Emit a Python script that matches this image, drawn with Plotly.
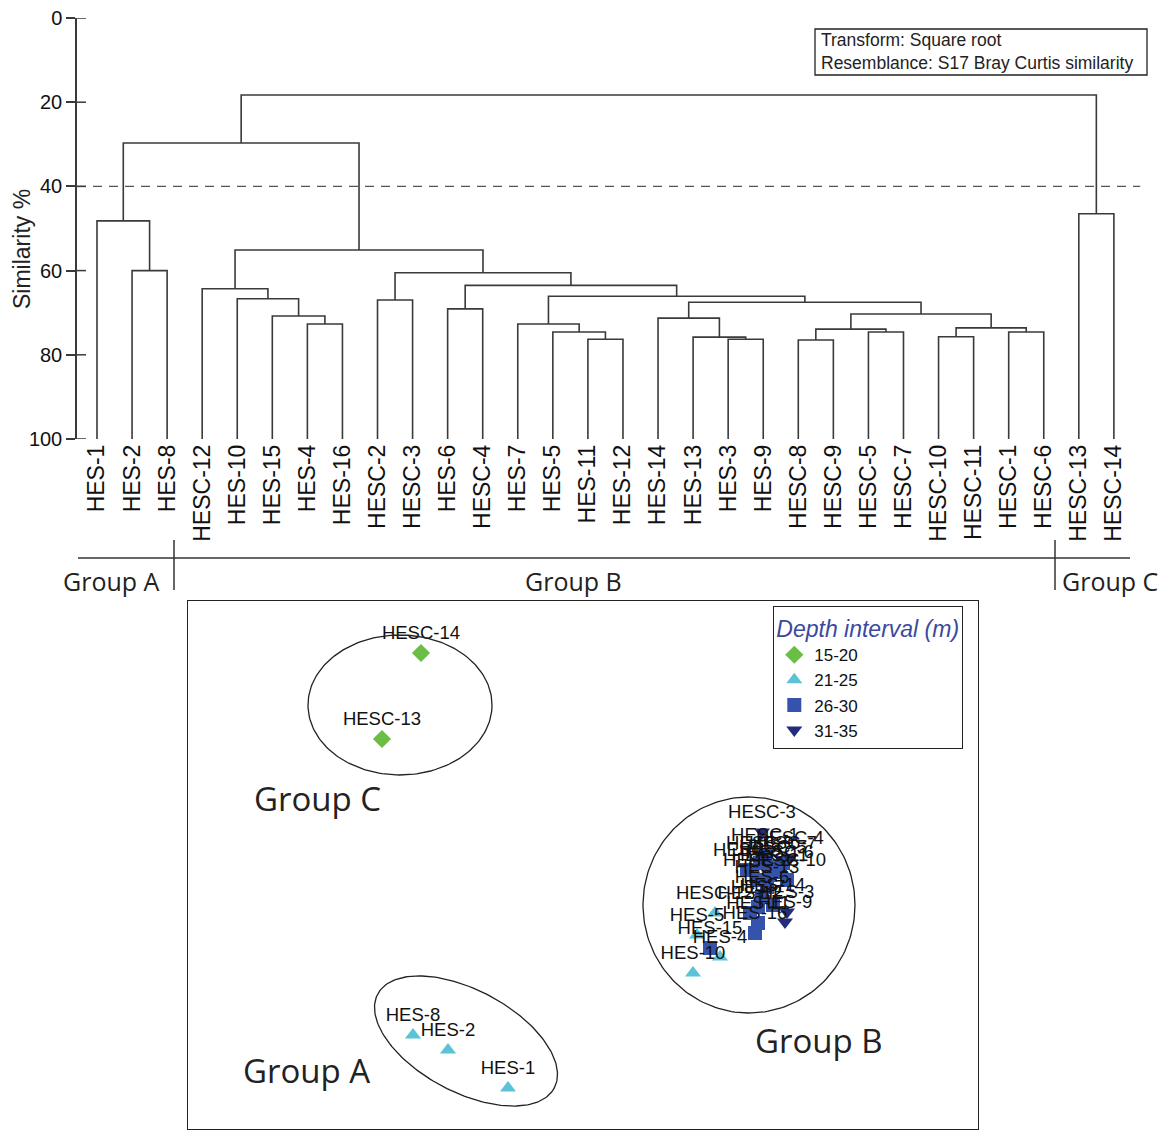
import numpy as np
import plotly.graph_objects as go

# ---------------- data: cluster dendrogram ----------------
leaf_labels = ["HES-1", "HES-2", "HES-8", "HESC-12", "HES-10", "HES-15", "HES-4", "HES-16",
               "HESC-2", "HESC-3", "HES-6", "HESC-4", "HES-7", "HES-5", "HES-11", "HES-12",
               "HES-14", "HES-13", "HES-3", "HES-9", "HESC-8", "HESC-9", "HESC-5", "HESC-7",
               "HESC-10", "HESC-11", "HESC-1", "HESC-6", "HESC-13", "HESC-14"]

# merges in order; "mK" refers to the K-th merge
merge_left = ["HES-2", "HES-1", "HES-4", "HES-15", "HES-10", "HESC-12", "HESC-2", "HES-6",
              "HES-11", "HES-5", "HES-7", "HES-3", "HES-13", "HES-14", "HESC-8", "HESC-5",
              "m14", "HESC-10", "HESC-1", "m17", "m16", "m13", "m10", "m7", "m6", "m5",
              "m1", "HESC-13", "m26"]
merge_right = ["HES-8", "m0", "HES-16", "m2", "m3", "m4", "HESC-3", "HESC-4",
               "HES-12", "m8", "m9", "HES-9", "m11", "m12", "HESC-9", "HESC-7",
               "m15", "HESC-11", "HESC-6", "m18", "m19", "m20", "m21", "m22", "m23", "m24",
               "m25", "HESC-14", "m27"]
merge_similarity = [60.0, 48.2, 72.7, 70.8, 66.7, 64.3, 67.0, 69.1,
                    76.3, 74.6, 72.7, 76.3, 75.8, 71.3, 76.5, 74.6,
                    73.9, 75.7, 74.6, 73.6, 70.3, 67.5, 66.1, 63.5, 60.5, 55.1,
                    29.7, 46.5, 18.3]
y_ticks = [0, 20, 40, 60, 80, 100]
cut_level = 40

# ---------------- data: nMDS ordination ----------------
nmds_label = ["HESC-14", "HESC-13", "HES-8", "HES-2", "HES-1",
              "HES-10", "HES-4", "HES-5", "HESC-12", "HES-15", "HES-16", "HES-11", "HES-12",
              "HES-7", "HES-14", "HES-6", "HES-13", "HESC-2", "HESC-8", "HESC-9", "HESC-5",
              "HESC-7", "HESC-10", "HESC-11", "HESC-1", "HESC-6", "HESC-3", "HESC-4",
              "HES-3", "HES-9"]
nmds_x = [-0.81, -1.005, -0.85, -0.675, -0.375,
          0.55, 0.685, 0.57, 0.66, 0.635, 0.86, 0.875, 0.835,
          0.875, 0.95, 0.895, 0.92, 0.87, 0.82, 0.885, 0.95,
          1.0, 1.02, 0.935, 0.91, 0.985, 0.895, 1.035,
          1.02, 1.01]
nmds_y = [1.06, 0.63, -0.85, -0.925, -1.115,
          -0.54, -0.46, -0.35, -0.24, -0.415, -0.34, -0.29, -0.24,
          -0.21, -0.2, -0.16, -0.11, -0.075, -0.025, 0.01, -0.01,
          0.01, -0.075, -0.05, 0.05, -0.035, 0.165, 0.035,
          -0.235, -0.285]
nmds_depth = ["15-20", "15-20", "21-25", "21-25", "21-25",
              "21-25", "21-25", "21-25", "21-25", "26-30", "26-30", "26-30", "26-30",
              "26-30", "26-30", "26-30", "26-30", "26-30", "26-30", "26-30", "26-30",
              "26-30", "26-30", "26-30", "26-30", "26-30", "31-35", "31-35",
              "31-35", "31-35"]
depth_classes = ["15-20", "21-25", "26-30", "31-35"]
depth_symbols = ["diamond", "triangle-up", "square", "triangle-down"]
depth_colors = ["#6abd45", "#5cc3d6", "#3553ad", "#232c7c"]

# group outlines: center x, center y, semi-axis a, semi-axis b, rotation (deg)
group_names = ["Group A", "Group B", "Group C"]
group_cx = [-0.585, 0.83, -0.915]
group_cy = [-0.88, -0.2, 0.8]
group_a = [0.5, 0.53, 0.46]
group_b = [0.255, 0.54, 0.35]
group_rot = [-28, 0, 0]
group_label_x = [-1.385, 1.18, -1.33]
group_label_y = [-1.025, -0.875, 0.335]

W, H = 1166, 1130
def px(x):
    return x / W
def py(y):
    return 1 - y / H

FONT = "Liberation Sans, Arial, sans-serif"
GFONT = "Open Sans, sans-serif"
LINE = "#3a3a3a"

fig = go.Figure()

# ---- dendrogram ----
pos = {lab: i for i, lab in enumerate(leaf_labels)}
hgt = {lab: 100.0 for lab in leaf_labels}
xs, ys = [], []
for k, (a, b, s) in enumerate(zip(merge_left, merge_right, merge_similarity)):
    xa, xb = pos[a], pos[b]
    xs += [xa, xa, xb, xb, None]
    ys += [hgt[a], s, s, hgt[b], None]
    pos[f"m{k}"] = (xa + xb) / 2
    hgt[f"m{k}"] = s

fig.add_trace(go.Scatter(x=xs, y=ys, mode="lines", line=dict(color=LINE, width=1.6),
                         hoverinfo="skip", showlegend=False, xaxis="x", yaxis="y"))
fig.add_trace(go.Scatter(x=[-0.57, 29.75], y=[cut_level, cut_level], mode="lines",
                         line=dict(color="#555555", width=1.3, dash="9px,7px"),
                         hoverinfo="skip", showlegend=False, xaxis="x", yaxis="y"))

# ---- nMDS ----
for cls, sym, col in zip(depth_classes, depth_symbols, depth_colors):
    idx = [i for i, d in enumerate(nmds_depth) if d == cls]
    fig.add_trace(go.Scatter(
        x=[nmds_x[i] for i in idx], y=[nmds_y[i] for i in idx], mode="markers",
        name=cls, marker=dict(symbol=sym, size=14, color=col, line=dict(width=0)),
        xaxis="x2", yaxis="y2"))

fig.add_trace(go.Scatter(
    x=nmds_x, y=nmds_y, mode="markers+text", text=nmds_label, textposition="top center",
    textfont=dict(family=FONT, size=18.5, color="#111111"),
    marker=dict(size=14, opacity=0), hoverinfo="skip", showlegend=False,
    xaxis="x2", yaxis="y2"))

t = np.linspace(0, 2 * np.pi, 200)
for cx, cy, a, b, r in zip(group_cx, group_cy, group_a, group_b, group_rot):
    th = np.deg2rad(r)
    ex = cx + a * np.cos(t) * np.cos(th) - b * np.sin(t) * np.sin(th)
    ey = cy + a * np.cos(t) * np.sin(th) + b * np.sin(t) * np.cos(th)
    fig.add_trace(go.Scatter(x=ex, y=ey, mode="lines", line=dict(color="#222222", width=1.3),
                             hoverinfo="skip", showlegend=False, xaxis="x2", yaxis="y2"))

annotations = []
for name, gx, gy in zip(group_names, group_label_x, group_label_y):
    annotations.append(dict(x=gx, y=gy, xref="x2", yref="y2", text=name, showarrow=False,
                            xanchor="center", yanchor="middle",
                            font=dict(family=GFONT, size=33, color="#222222")))

def paper_note(x, y, text, size, **kw):
    d = dict(x=px(x), y=py(y), xref="paper", yref="paper", text=text, showarrow=False,
             xanchor="center", yanchor="middle",
             font=dict(family=kw.pop("family", GFONT), size=size, color="#222222"))
    d.update(kw)
    return d

annotations += [
    paper_note(111, 581, "Group A", 25),
    paper_note(573, 581, "Group B", 25),
    paper_note(1110, 581, "Group C", 25),
    paper_note(22, 249, "Similarity %", 23, family=FONT, textangle=-90),
    paper_note(819, 51, "Transform: Square root<br>Resemblance: S17 Bray Curtis similarity",
               17.5, family=FONT, xanchor="left", align="left"),
]

shapes = [
    dict(type="rect", xref="paper", yref="paper", x0=px(815), x1=px(1147), y0=py(29), y1=py(75),
         line=dict(color="#222222", width=1.3)),
    dict(type="line", xref="paper", yref="paper", x0=px(78), x1=px(1130), y0=py(558), y1=py(558),
         line=dict(color="#333333", width=1.5)),
    dict(type="line", xref="paper", yref="paper", x0=px(174), x1=px(174), y0=py(540), y1=py(590),
         line=dict(color="#333333", width=1.5)),
    dict(type="line", xref="paper", yref="paper", x0=px(1055), x1=px(1055), y0=py(540), y1=py(590),
         line=dict(color="#333333", width=1.5)),
]
for v in y_ticks:
    shapes.append(dict(type="line", xref="x", yref="y", xsizemode="pixel", xanchor=-0.57,
                       x0=0, x1=9, y0=v, y1=v, line=dict(color=LINE, width=1.5)))

fig.update_layout(
    template="none",
    width=W, height=H, autosize=False,
    margin=dict(l=0, r=0, t=0, b=0, pad=0),
    paper_bgcolor="white", plot_bgcolor="white",
    font=dict(family=FONT, color="#111111"),
    xaxis=dict(domain=[px(77), px(1150)], range=[-0.57, 30.03], anchor="y", automargin=False,
               tickmode="array", tickvals=list(range(len(leaf_labels))), ticktext=leaf_labels,
               tickangle=-90, ticks="", showline=False, showgrid=False, zeroline=False,
               tickfont=dict(family=FONT, size=23, color="#111111")),
    yaxis=dict(domain=[py(439), py(18)], range=[100, 0], anchor="x", automargin=False,
               tickmode="array", tickvals=y_ticks, ticks="outside", ticklen=9, tickwidth=1.5,
               tickcolor=LINE, showline=True, linecolor=LINE, linewidth=1.5,
               showgrid=False, zeroline=False,
               tickfont=dict(family=FONT, size=20, color="#111111")),
    xaxis2=dict(domain=[px(188), px(978)], range=[-1.975, 1.975], anchor="y2", automargin=False,
                showticklabels=False, ticks="", showgrid=False, zeroline=False,
                showline=True, mirror=True, linecolor="#222222", linewidth=1.2),
    yaxis2=dict(domain=[py(1129), py(601)], range=[-1.32, 1.32], anchor="x2", automargin=False,
                showticklabels=False, ticks="", showgrid=False, zeroline=False,
                showline=True, mirror=True, linecolor="#222222", linewidth=1.2),
    legend=dict(x=px(773), y=py(606), xanchor="left", yanchor="top",
                bgcolor="white", bordercolor="#222222", borderwidth=1.3,
                font=dict(family=FONT, size=17, color="#111111"),
                title=dict(text="<i>Depth interval (m)</i>",
                           font=dict(family=FONT, size=23, color="#3a4a9e")),
                tracegroupgap=0, itemwidth=30),
    annotations=annotations,
    shapes=shapes,
    hovermode=False,
)

fig.write_html("out.html")
